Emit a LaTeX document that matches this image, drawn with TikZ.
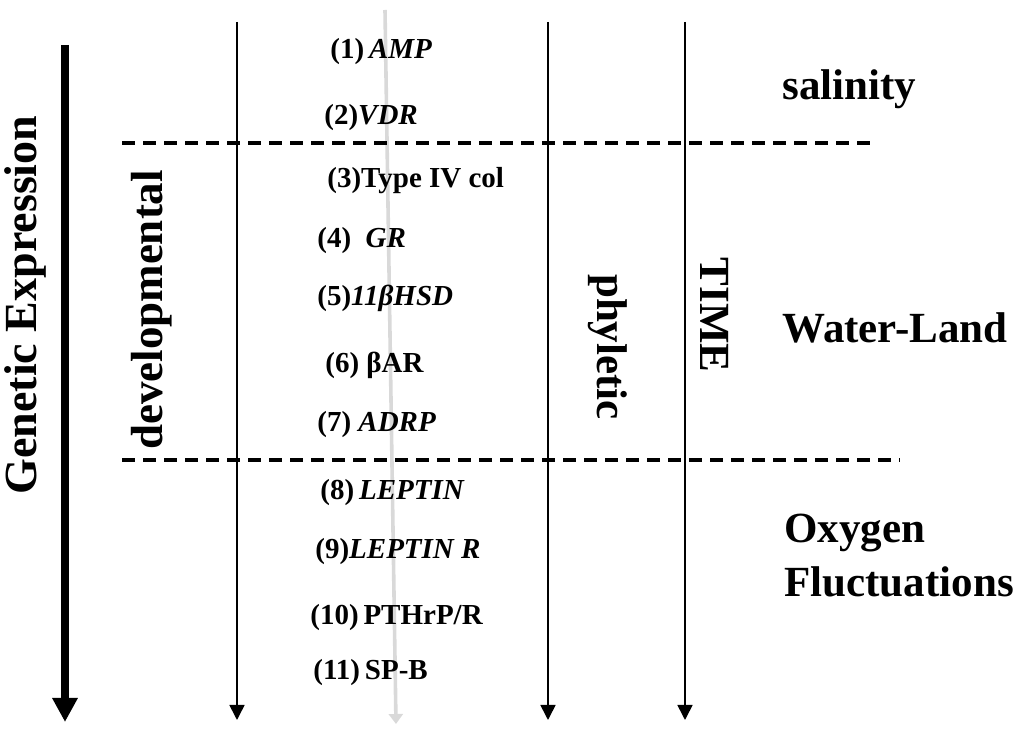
\documentclass[tikz,border=0pt]{standalone}
\usepackage{fontspec}
\setmainfont{Liberation Serif}
\usetikzlibrary{arrows.meta}

\begin{document}
\begin{tikzpicture}[
  x=0.5pt, y=-0.5pt,
  big/.style={font=\fontsize{21.5}{25}\selectfont\bfseries, inner sep=0pt},
  gene/.style={anchor=west, inner sep=0pt, font=\fontsize{14.5}{17}\selectfont\bfseries},
  axis/.style={-{Triangle[length=7.5pt,width=7.5pt]}, line width=0.8pt},
  mainaxis/.style={-{Triangle[length=12pt,width=12pt]}, line width=4pt},
  greyaxis/.style={-{Triangle[length=5pt,width=7pt]}, line width=1.8pt, draw=gray!30, color=gray!30},
  border/.style={line width=1.7pt, dash pattern=on 6.5pt off 4pt}
]
\useasboundingbox (0,0) rectangle (1024,732);

% Axis end points
\coordinate (geTop) at (65,45);
\coordinate (geEnd) at (65,722);
\coordinate (devTop) at (237,22);
\coordinate (devEnd) at (237,720);
\coordinate (midTop) at (385,10);
\coordinate (midEnd) at (396,724);
\coordinate (phyTop) at (548,22);
\coordinate (phyEnd) at (548,720);
\coordinate (timeTop) at (685,22);
\coordinate (timeEnd) at (685,720);

% Zone borders
\coordinate (upL) at (122,143);
\coordinate (upR) at (872,143);
\coordinate (lowL) at (122,460);
\coordinate (lowR) at (900,460);

\draw[greyaxis] (midTop) -- (midEnd);
\draw[mainaxis] (geTop) -- (geEnd);
\draw[axis] (devTop) -- (devEnd);
\draw[axis] (phyTop) -- (phyEnd);
\draw[axis] (timeTop) -- (timeEnd);

\draw[border] (upL) -- (upR);
\draw[border] (lowL) -- (lowR);

% Axis labels
\node[big, rotate=90, font=\fontsize{23}{26}\selectfont\bfseries] (genexp) at (25,305) {Genetic Expression};
\node[big, rotate=90, font=\fontsize{22.5}{26}\selectfont\bfseries] (devel) at (152,310) {developmental};
\node[big, rotate=-90] (phyl) at (608,347) {phyletic};
\node[big, rotate=-90] (time) at (715,315) {TIME};

% Environmental zones
\node[big, anchor=base west] (salin) at (782,100) {salinity};
\node[big, anchor=base west] (wland) at (782,343) {Water-Land};
\node[big, anchor=base west] (oxy) at (784,543) {Oxygen};
\node[big, anchor=base west] (fluct) at (784,597) {Fluctuations};

% Genes
\node[gene] (g1) at (330,52) {(1)\,\textit{AMP}};
\node[gene] (g2) at (324,118) {(2)\textit{VDR}};
\node[gene] (g3) at (327,181) {(3)Type IV col};
\node[gene] (g4) at (317,241) {(4)\ \ \textit{GR}};
\node[gene] (g5) at (317,298) {(5)\textit{11βHSD}};
\node[gene] (g6) at (325,365) {(6) βAR};
\node[gene] (g7) at (317,425) {(7) \textit{ADRP}};
\node[gene] (g8) at (320,493) {(8)\,\textit{LEPTIN}};
\node[gene] (g9) at (315,552) {(9)\textit{LEPTIN R}};
\node[gene] (g10) at (310,618) {(10)\,PTHrP/R};
\node[gene] (g11) at (313,673) {(11)\,SP-B};

\end{tikzpicture}
\end{document}
